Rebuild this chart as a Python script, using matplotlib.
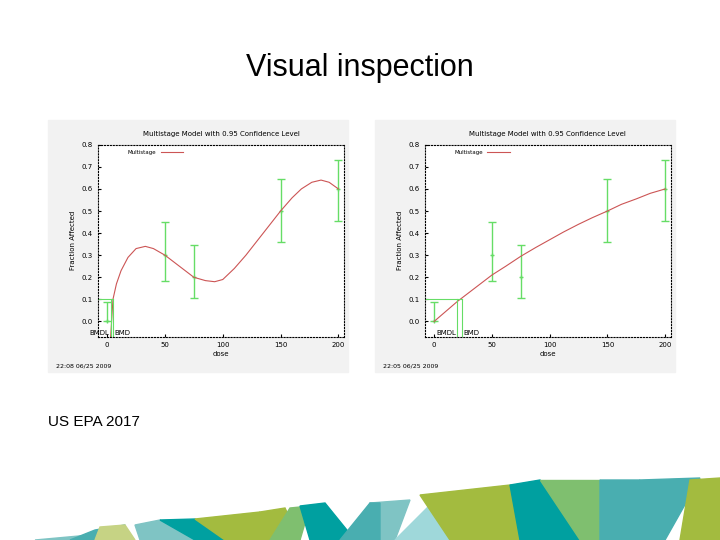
import matplotlib.pyplot as plt
from matplotlib.patches import Polygon, Rectangle

# observed data with confidence limits (both panels share the data)
doses = [0, 50, 75, 150, 200]
observed = [0.0, 0.3, 0.2, 0.5, 0.6]
lower = [0.0, 0.185, 0.105, 0.36, 0.455]
upper = [0.09, 0.45, 0.345, 0.645, 0.73]

# model curves
left_x = [3, 5, 8, 12, 18, 25, 33, 40, 50, 60, 75, 85, 93, 100, 110, 120, 135, 150, 160, 168, 177, 185, 192, 200]
left_y = [-0.07, 0.1, 0.17, 0.23, 0.29, 0.33, 0.34, 0.33, 0.3, 0.26, 0.2, 0.185, 0.18, 0.19, 0.24, 0.3, 0.4, 0.5, 0.56, 0.6, 0.63, 0.64, 0.63, 0.6]
right_x = [0, 10, 20, 25, 35, 50, 62, 75, 88, 100, 112, 125, 137, 150, 162, 175, 187, 200]
right_y = [0.0, 0.045, 0.09, 0.11, 0.15, 0.21, 0.25, 0.295, 0.335, 0.37, 0.405, 0.44, 0.47, 0.5, 0.53, 0.555, 0.58, 0.6]

left_bmd = (3, 5)
right_bmd = (20, 24)
stamps = ["22:08 06/25 2009", "22:05 06/25 2009"]

fig = plt.figure(figsize=(7.2, 5.4), dpi=100)
fig.text(0.5, 1 - 68 / 540, "Visual inspection", ha="center", va="center",
         fontsize=22, family="Liberation Sans")
fig.text(0.067, 1 - 422 / 540, "US EPA 2017", va="center", fontsize=11, family="Liberation Sans")

# image backgrounds
for x0 in (48 / 720, 375 / 720):
    fig.patches.append(Rectangle((x0, 168 / 540), 300 / 720, 252 / 540,
                                 transform=fig.transFigure, color="#f2f2f2", zorder=-2))

green = "#66dd66"
red = "#cc5555"
panels = [
    (0.136, left_x, left_y, left_bmd, stamps[0]),
    (0.590, right_x, right_y, right_bmd, stamps[1]),
]
for left, cx, cy, (bmdl, bmd), stamp in panels:
    ax = fig.add_axes([left, 0.376, 0.342, 0.356])
    ax.set_facecolor("white")
    yerr = [[o - l for o, l in zip(observed, lower)], [u - o for u, o in zip(upper, observed)]]
    ax.errorbar(doses, observed, yerr=yerr, fmt="none", ecolor=green, capsize=3, lw=1)
    ax.plot(doses, observed, "+", color=green, ms=3)
    ax.plot(cx, cy, color=red, lw=0.8, label="Multistage")
    ax.plot([-8, bmd], [0.1, 0.1], color=green, lw=0.8)
    ax.plot([bmdl, bmdl], [-0.07, 0.1], color=green, lw=0.8)
    ax.plot([bmd, bmd], [-0.07, 0.1], color=green, lw=0.8)
    ax.text(bmdl - 1, -0.06, "BMDL", ha="right", fontsize=5)
    ax.text(bmd + 1, -0.06, "BMD", ha="left", fontsize=5)
    ax.set_xlim(-8, 205)
    ax.set_ylim(-0.07, 0.8)
    ax.set_xticks([0, 50, 100, 150, 200])
    ax.set_yticks([0, 0.1, 0.2, 0.3, 0.4, 0.5, 0.6, 0.7, 0.8])
    ax.tick_params(labelsize=5, length=2, direction="in")
    for s in ax.spines.values():
        s.set_linestyle(":")
        s.set_linewidth(0.8)
    ax.set_xlabel("dose", fontsize=5, labelpad=2)
    ax.set_ylabel("Fraction Affected", fontsize=5)
    ax.set_title("Multistage Model with 0.95 Confidence Level", fontsize=5)
    ax.legend(loc="upper left", bbox_to_anchor=(0.1, 1.0), fontsize=4, frameon=False,
              markerfirst=False, handlelength=4)
    ax.text(-0.17, -0.16, stamp, transform=ax.transAxes, fontsize=4.5)

# decorative ribbon at the bottom
shapes = [
    ([(35, 540), (90, 535), (85, 540)], "#7fc4c4"),
    ([(70, 540), (95, 530), (125, 525), (125, 540)], "#49aeb0"),
    ([(100, 527), (125, 525), (135, 540), (95, 540)], "#c6d384"),
    ([(135, 525), (160, 520), (195, 540), (140, 540)], "#7fc4c4"),
    ([(160, 520), (195, 519), (225, 540), (195, 540)], "#00a0a0"),
    ([(195, 519), (260, 512), (245, 540), (225, 540)], "#a3bb3f"),
    ([(260, 512), (285, 508), (300, 540), (245, 540)], "#a3bb3f"),
    ([(270, 540), (290, 508), (310, 506), (300, 540)], "#7fbf6f"),
    ([(300, 506), (325, 503), (355, 540), (310, 540)], "#00a0a0"),
    ([(355, 540), (370, 503), (410, 500), (395, 540)], "#7fc4c4"),
    ([(340, 540), (370, 503), (380, 503), (380, 540)], "#49aeb0"),
    ([(395, 540), (430, 505), (470, 540)], "#9fd8da"),
    ([(420, 495), (510, 485), (520, 540), (450, 540)], "#a3bb3f"),
    ([(510, 485), (540, 480), (580, 540), (520, 540)], "#00a0a0"),
    ([(540, 480), (600, 480), (600, 540), (580, 540)], "#7fbf6f"),
    ([(600, 480), (640, 480), (620, 540), (600, 540)], "#49aeb0"),
    ([(640, 480), (700, 478), (665, 540), (620, 540)], "#49aeb0"),
    ([(690, 480), (720, 478), (720, 540), (680, 540)], "#a3bb3f"),
]
for pts, col in shapes:
    fig.patches.append(Polygon([(x / 720, 1 - y / 540) for x, y in pts], closed=True,
                               transform=fig.transFigure, color=col, zorder=-1))

fig.savefig("out.png", dpi=100)
